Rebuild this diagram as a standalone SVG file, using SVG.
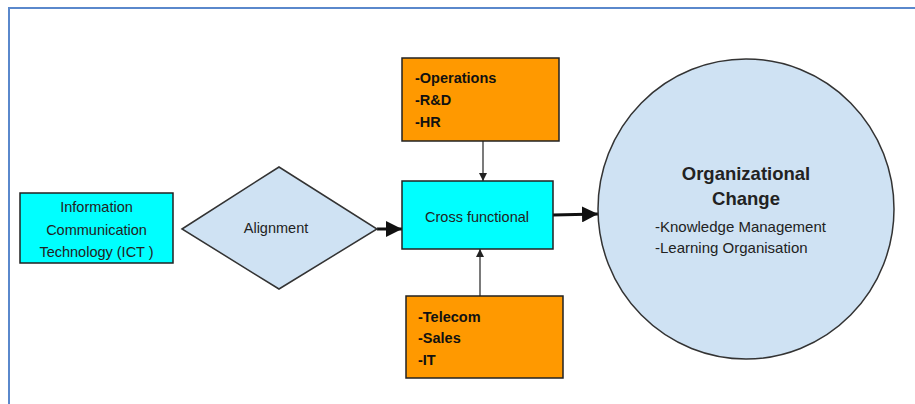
<svg xmlns="http://www.w3.org/2000/svg" width="915" height="404" viewBox="0 0 915 404">
  <defs>
    <style>
      .t { font-family: "Liberation Sans", Arial, sans-serif; fill: #222; }
      .n { font-size: 14.5px; }
      .b { font-weight: bold; font-size: 14.5px; fill: #111; }
      .box { stroke: #222; stroke-width: 1.5; }
      .cyan { fill: #00FFFF; }
      .orange { fill: #FF9900; }
      .pale { fill: #CFE2F3; stroke: #333; stroke-width: 1.5; }
      .thick { stroke: #111; stroke-width: 3; fill: none; }
      .thin { stroke: #222; stroke-width: 1.2; fill: none; }
    </style>
    <marker id="bigHead" viewBox="0 0 16 16" refX="16" refY="8" markerUnits="userSpaceOnUse" markerWidth="16" markerHeight="16" orient="auto">
      <path d="M0,0 L16,8 L0,16 Z" fill="#111"/>
    </marker>
    <marker id="smallHead" viewBox="0 0 8 8" refX="8" refY="4" markerUnits="userSpaceOnUse" markerWidth="8" markerHeight="8" orient="auto">
      <path d="M0,0 L8,4 L0,8 Z" fill="#222"/>
    </marker>
  </defs>

  <rect width="915" height="404" fill="#fff"/>

  <!-- page frame -->
  <path d="M9,404 L9,8 L915,8" fill="none" stroke="#5A88CC" stroke-width="2"/>

  <g id="connectors">
    <line class="thick" x1="377" y1="229" x2="402" y2="229" marker-end="url(#bigHead)"/>
    <line class="thick" x1="553" y1="215" x2="598" y2="214" marker-end="url(#bigHead)"/>
    <line class="thin" x1="483" y1="141" x2="483" y2="181" marker-end="url(#smallHead)"/>
    <line class="thin" x1="480" y1="296" x2="480" y2="249" marker-end="url(#smallHead)"/>
  </g>

  <g id="ict">
    <rect class="box cyan" x="20" y="193" width="153" height="70"/>
    <text class="t n" text-anchor="middle" x="96.5" y="212">Information</text>
    <text class="t n" text-anchor="middle" x="96.5" y="235">Communication</text>
    <text class="t n" text-anchor="middle" x="96.5" y="257">Technology (ICT )</text>
  </g>

  <g id="alignment">
    <polygon class="pale" points="182,229 279,167 377,229 279,289"/>
    <text class="t n" text-anchor="middle" x="276" y="233">Alignment</text>
  </g>

  <g id="functions-top">
    <rect class="box orange" x="402" y="58" width="157" height="83"/>
    <text class="t b" x="415" y="83">-Operations</text>
    <text class="t b" x="415" y="105">-R&amp;D</text>
    <text class="t b" x="415" y="127">-HR</text>
  </g>

  <g id="cross-functional">
    <rect class="box cyan" x="402" y="181" width="151" height="68"/>
    <text class="t n" text-anchor="middle" x="477" y="222">Cross functional</text>
  </g>

  <g id="functions-bottom">
    <rect class="box orange" x="406" y="296" width="157" height="82"/>
    <text class="t b" x="418" y="322">-Telecom</text>
    <text class="t b" x="418" y="343">-Sales</text>
    <text class="t b" x="418" y="365">-IT</text>
  </g>

  <g id="organizational-change">
    <ellipse class="pale" cx="746" cy="209" rx="148" ry="150"/>
    <text class="t" text-anchor="middle" x="746" y="180" font-size="18.5" font-weight="bold" fill="#111">Organizational</text>
    <text class="t" text-anchor="middle" x="746" y="205" font-size="18.5" font-weight="bold" fill="#111">Change</text>
    <text class="t" x="655" y="232" font-size="15">-Knowledge Management</text>
    <text class="t" x="655" y="253" font-size="15">-Learning Organisation</text>
  </g>
</svg>
